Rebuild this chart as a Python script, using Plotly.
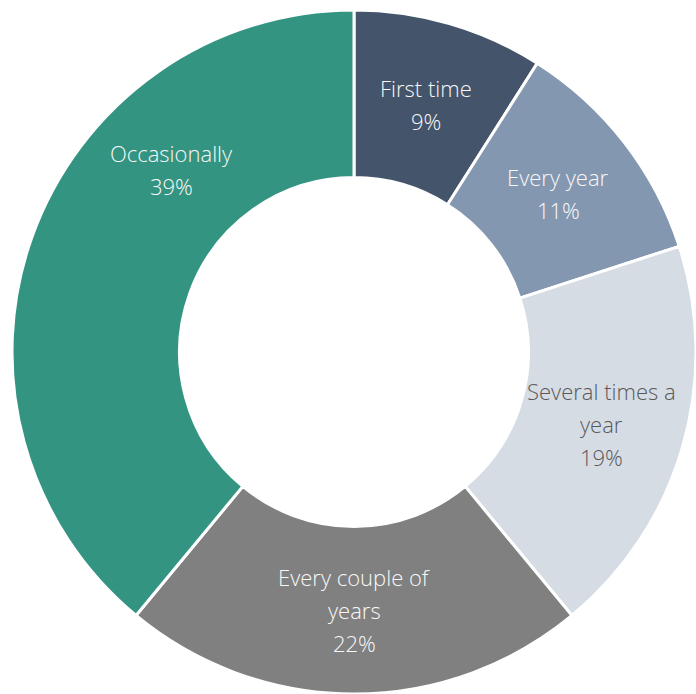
import math
import plotly.graph_objects as go

# Survey answers: how often respondents take part
categories = ["First time", "Every year", "Several times a year",
              "Every couple of years", "Occasionally"]
shares = [9, 11, 19, 22, 39]

# Wrapped label text for each slice
label_lines = {
    "First time": ["First time"],
    "Every year": ["Every year"],
    "Several times a year": ["Several times a", "year"],
    "Every couple of years": ["Every couple of", "years"],
    "Occasionally": ["Occasionally"],
}

colors = ["#44546A", "#8497B0", "#D6DCE4", "#808080", "#339481"]
text_colors = ["#F8F8F8", "#F8F8F8", "#595959", "#F8F8F8", "#F8F8F8"]
# Label angle overrides (degrees clockwise from 12 o'clock)
label_angle_override = {"Occasionally": 315.0}

W, H = 696, 694
cx, cy, R = 354.0, 352.0, 342.0
HOLE = 0.51
FONT = "Open Sans"
FSIZE = 22
LINE_GAP = 33


def clamp(v):
    return max(0.0, min(1.0, v))


fig = go.Figure(go.Pie(
    labels=categories,
    values=shares,
    sort=False,
    direction="clockwise",
    rotation=0,
    hole=HOLE,
    marker=dict(colors=colors, line=dict(color="white", width=3)),
    textinfo="none",
    hoverinfo="label+percent",
    showlegend=False,
    domain=dict(x=[clamp((cx - R) / W), clamp((cx + R) / W)],
                y=[clamp(1 - (cy + R) / H), clamp(1 - (cy - R) / H)]),
))

# Place labels at the middle of the ring along each slice's mid angle
total = sum(shares)
cum = 0.0
annotations = []
r_lab = R * (1 + HOLE) / 2
for cat, val, tc in zip(categories, shares, text_colors):
    mid = (cum + val / 2) / total * 360.0
    cum += val
    ang = math.radians(label_angle_override.get(cat, mid))
    px = cx + r_lab * math.sin(ang)
    py = cy - r_lab * math.cos(ang)
    lines = label_lines[cat] + [f"{round(val / total * 100)}%"]
    n = len(lines)
    for i, line in enumerate(lines):
        offset = (i - (n - 1) / 2) * LINE_GAP
        annotations.append(dict(
            x=px / W, y=1 - (py + offset) / H, xref="paper", yref="paper",
            text=line, showarrow=False, xanchor="center", yanchor="middle",
            font=dict(family=FONT, size=FSIZE, color=tc, weight=300),
        ))

fig.update_layout(
    width=W, height=H,
    margin=dict(l=0, r=0, t=0, b=0),
    paper_bgcolor="white", plot_bgcolor="white",
    annotations=annotations,
)

fig.write_html("out.html")
